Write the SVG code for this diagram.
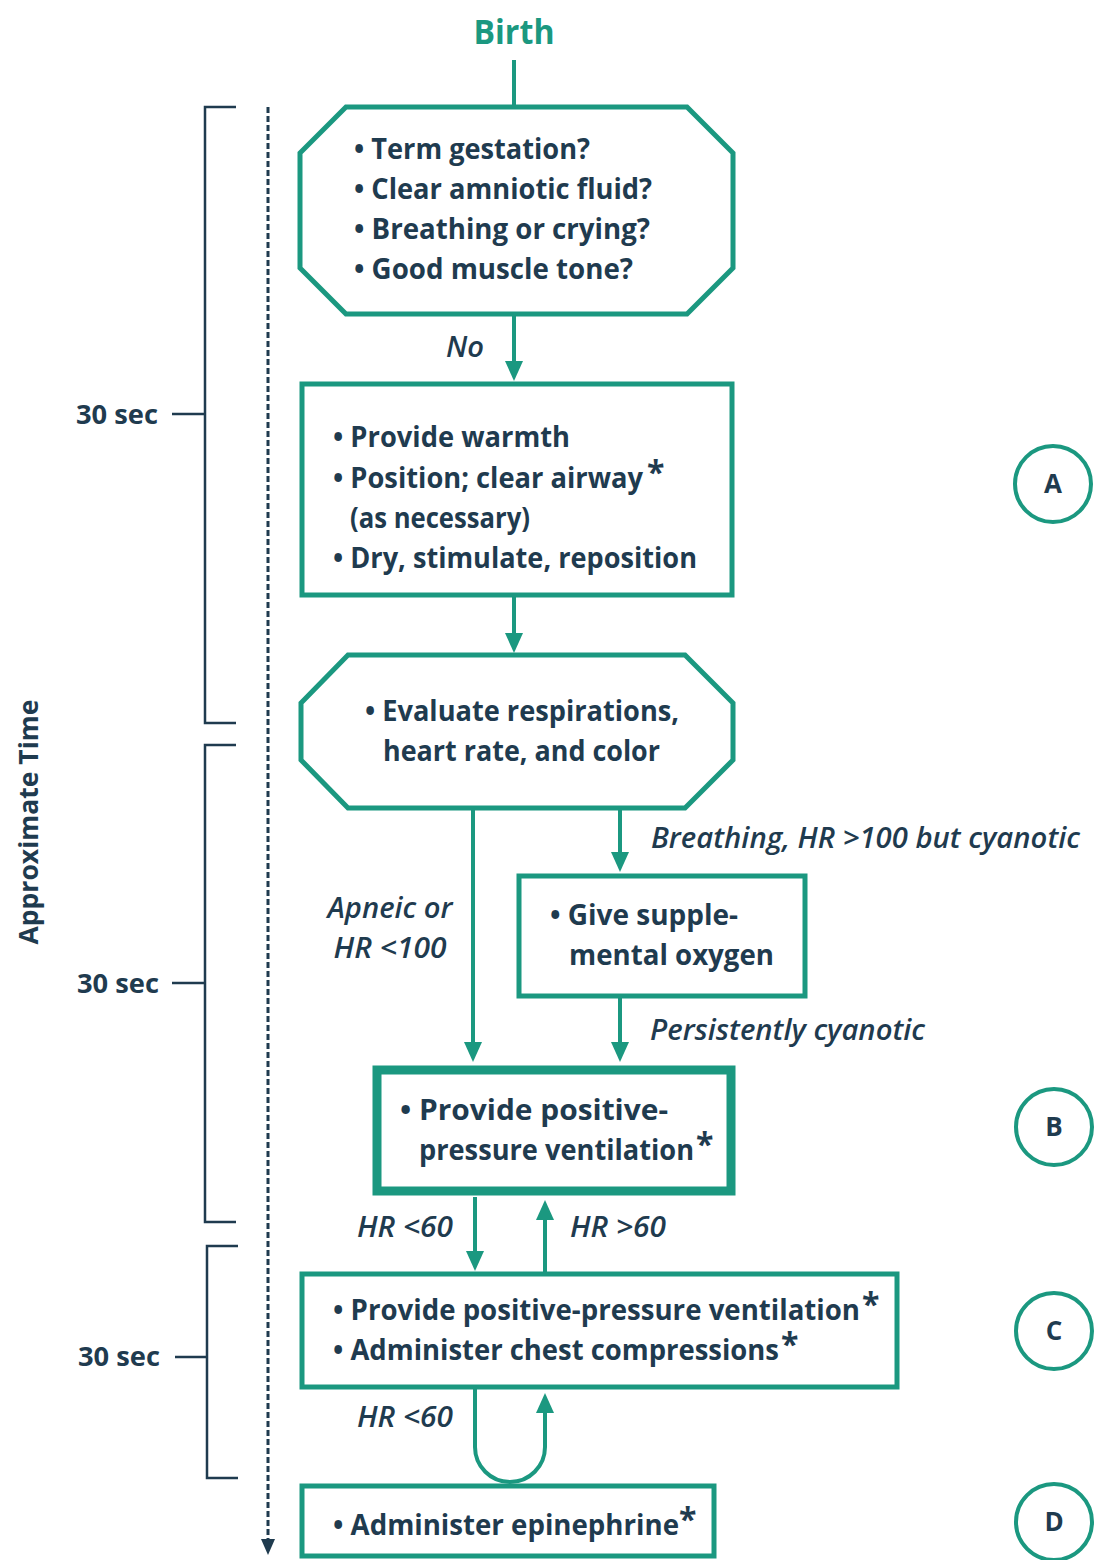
<svg xmlns="http://www.w3.org/2000/svg" width="1097" height="1560" viewBox="0 0 1097 1560">
  <defs>
    <style>
      .bg { fill: #ffffff; }
      .node { fill: #ffffff; stroke: #1b9880; stroke-width: 5; }
      .node-thick { fill: #ffffff; stroke: #1b9880; stroke-width: 9; }
      .ring { fill: #ffffff; stroke: #1b9880; stroke-width: 4; }
      .flow { fill: none; stroke: #1b9880; stroke-width: 4; }
      .time { fill: none; stroke: #1f3b4f; stroke-width: 2.5; }
      .axis { fill: none; stroke: #1f3b4f; stroke-width: 3; stroke-dasharray: 6 3; }
      .body { font-family: "Open Sans", "Noto Sans", sans-serif; font-weight: 700; font-size: 28px; fill: #1f3b4f; }
      .cond { font-family: "Open Sans", "Noto Sans", sans-serif; font-weight: 600; font-style: italic; font-size: 28px; fill: #1f3b4f; }
      .star { font-size: 32px; }
      .letter { font-family: "Open Sans", "Noto Sans", sans-serif; font-weight: 700; font-size: 26px; fill: #1f3b4f; text-anchor: middle; }
      .sec { font-family: "Open Sans", "Noto Sans", sans-serif; font-weight: 700; font-size: 27px; fill: #1f3b4f; }
      .title { font-family: "Open Sans", "Noto Sans", sans-serif; font-weight: 700; font-size: 34px; fill: #1b9880; text-anchor: middle; }
      .vlabel { font-family: "Open Sans", "Noto Sans", sans-serif; font-weight: 700; font-size: 27px; fill: #1f3b4f; text-anchor: middle; }
    </style>
    <marker id="head" viewBox="0 0 20 18" refX="14" refY="9" markerWidth="20" markerHeight="18" markerUnits="userSpaceOnUse" orient="auto">
      <path d="M0,0 L20,9 L0,18 z" fill="#1b9880"/>
    </marker>
    <marker id="head-dark" viewBox="0 0 16 14" refX="10" refY="7" markerWidth="16" markerHeight="14" markerUnits="userSpaceOnUse" orient="auto">
      <path d="M0,0 L16,7 L0,14 z" fill="#1f3b4f"/>
    </marker>
  </defs>

  <rect class="bg" x="0" y="0" width="1097" height="1560"/>

  <!-- time axis with 30-second brackets -->
  <g id="timeline">
    <text class="vlabel" transform="translate(38,822) rotate(-90)" textLength="245" lengthAdjust="spacingAndGlyphs">Approximate Time</text>
    <path class="axis" d="M268,107 V1549" marker-end="url(#head-dark)"/>
    <path class="time" d="M236,107 H205 V723 H236 M205,414 H172"/>
    <text class="sec" x="76" y="424" textLength="82" lengthAdjust="spacingAndGlyphs">30 sec</text>
    <path class="time" d="M236,745 H205 V1222 H236 M205,983 H172"/>
    <text class="sec" x="77" y="993" textLength="82" lengthAdjust="spacingAndGlyphs">30 sec</text>
    <path class="time" d="M238,1246 H207 V1478 H238 M207,1357 H175"/>
    <text class="sec" x="78" y="1366" textLength="82" lengthAdjust="spacingAndGlyphs">30 sec</text>
  </g>

  <!-- connectors -->
  <g id="connectors">
    <path class="flow" d="M514,60 V107"/>
    <path class="flow" d="M514,314 V375" marker-end="url(#head)"/>
    <path class="flow" d="M514,596 V647" marker-end="url(#head)"/>
    <path class="flow" d="M473,808 V1056" marker-end="url(#head)"/>
    <path class="flow" d="M620,808 V866" marker-end="url(#head)"/>
    <path class="flow" d="M620,997 V1056" marker-end="url(#head)"/>
    <path class="flow" d="M475,1197 V1265" marker-end="url(#head)"/>
    <path class="flow" d="M545,1273 V1206" marker-end="url(#head)"/>
    <path class="flow" d="M475,1388 V1447 A35,35 0 0 0 545,1447 V1399" marker-end="url(#head)"/>
    <text class="cond" x="446" y="357" textLength="38" lengthAdjust="spacingAndGlyphs">No</text>
    <text class="cond" x="651" y="848" textLength="429" lengthAdjust="spacingAndGlyphs">Breathing, HR &gt;100 but cyanotic</text>
    <text class="cond" x="390" y="918" text-anchor="middle" textLength="125" lengthAdjust="spacingAndGlyphs">Apneic or</text>
    <text class="cond" x="390" y="958" text-anchor="middle" textLength="113" lengthAdjust="spacingAndGlyphs">HR &lt;100</text>
    <text class="cond" x="650" y="1040" textLength="275" lengthAdjust="spacingAndGlyphs">Persistently cyanotic</text>
    <text class="cond" x="357" y="1237" textLength="96" lengthAdjust="spacingAndGlyphs">HR &lt;60</text>
    <text class="cond" x="570" y="1237" textLength="96" lengthAdjust="spacingAndGlyphs">HR &gt;60</text>
    <text class="cond" x="357" y="1427" textLength="96" lengthAdjust="spacingAndGlyphs">HR &lt;60</text>
  </g>

  <g id="birth">
    <text class="title" x="514" y="44" textLength="81" lengthAdjust="spacingAndGlyphs">Birth</text>
  </g>

  <g id="assess">
    <polygon class="node" points="346,107 687,107 733,153 733,268 687,314 346,314 300,268 300,153"/>
    <text class="body" x="354" y="159" textLength="236" lengthAdjust="spacingAndGlyphs">• Term gestation?</text>
    <text class="body" x="354" y="199" textLength="298" lengthAdjust="spacingAndGlyphs">• Clear amniotic fluid?</text>
    <text class="body" x="354" y="239" textLength="296" lengthAdjust="spacingAndGlyphs">• Breathing or crying?</text>
    <text class="body" x="354" y="279" textLength="279" lengthAdjust="spacingAndGlyphs">• Good muscle tone?</text>
  </g>

  <g id="initial-steps">
    <rect class="node" x="302" y="384" width="430" height="211"/>
    <text class="body" x="333" y="447" textLength="237" lengthAdjust="spacingAndGlyphs">• Provide warmth</text>
    <text class="body" x="333" y="488"><tspan textLength="310" lengthAdjust="spacingAndGlyphs">• Position; clear airway</tspan><tspan class="star" dx="4" dy="-4">*</tspan></text>
    <text class="body" x="350" y="528" textLength="180" lengthAdjust="spacingAndGlyphs">(as necessary)</text>
    <text class="body" x="333" y="568" textLength="364" lengthAdjust="spacingAndGlyphs">• Dry, stimulate, reposition</text>
  </g>

  <g id="evaluate">
    <polygon class="node" points="348,655 685,655 733,703 733,760 685,808 348,808 301,760 301,703"/>
    <text class="body" x="365" y="721" textLength="314" lengthAdjust="spacingAndGlyphs">• Evaluate respirations,</text>
    <text class="body" x="383" y="761" textLength="277" lengthAdjust="spacingAndGlyphs">heart rate, and color</text>
  </g>

  <g id="oxygen">
    <rect class="node" x="519" y="876" width="286" height="120"/>
    <text class="body" x="550" y="925" textLength="188" lengthAdjust="spacingAndGlyphs">• Give supple-</text>
    <text class="body" x="569" y="965" textLength="205" lengthAdjust="spacingAndGlyphs">mental oxygen</text>
  </g>

  <g id="ventilation">
    <rect class="node-thick" x="377" y="1070" width="354" height="121"/>
    <text class="body" x="400" y="1120" textLength="268" lengthAdjust="spacingAndGlyphs">• Provide positive-</text>
    <text class="body" x="419" y="1160"><tspan textLength="275" lengthAdjust="spacingAndGlyphs">pressure ventilation</tspan><tspan class="star" dx="2" dy="-4">*</tspan></text>
  </g>

  <g id="compressions">
    <rect class="node" x="302" y="1274" width="595" height="113"/>
    <text class="body" x="333" y="1320"><tspan textLength="527" lengthAdjust="spacingAndGlyphs">• Provide positive-pressure ventilation</tspan><tspan class="star" dx="2" dy="-4">*</tspan></text>
    <text class="body" x="333" y="1360"><tspan textLength="446" lengthAdjust="spacingAndGlyphs">• Administer chest compressions</tspan><tspan class="star" dx="2" dy="-4">*</tspan></text>
  </g>

  <g id="epinephrine">
    <rect class="node" x="302" y="1486" width="412" height="70"/>
    <text class="body" x="333" y="1535"><tspan textLength="346" lengthAdjust="spacingAndGlyphs">• Administer epinephrine</tspan><tspan class="star" dx="0" dy="-4">*</tspan></text>
  </g>

  <g id="stage-a">
    <circle class="ring" cx="1053" cy="484" r="38"/>
    <text class="letter" x="1053" y="493">A</text>
  </g>
  <g id="stage-b">
    <circle class="ring" cx="1054" cy="1127" r="38"/>
    <text class="letter" x="1054" y="1136">B</text>
  </g>
  <g id="stage-c">
    <circle class="ring" cx="1054" cy="1331" r="38"/>
    <text class="letter" x="1054" y="1340">C</text>
  </g>
  <g id="stage-d">
    <circle class="ring" cx="1054" cy="1522" r="38"/>
    <text class="letter" x="1054" y="1531">D</text>
  </g>
</svg>
